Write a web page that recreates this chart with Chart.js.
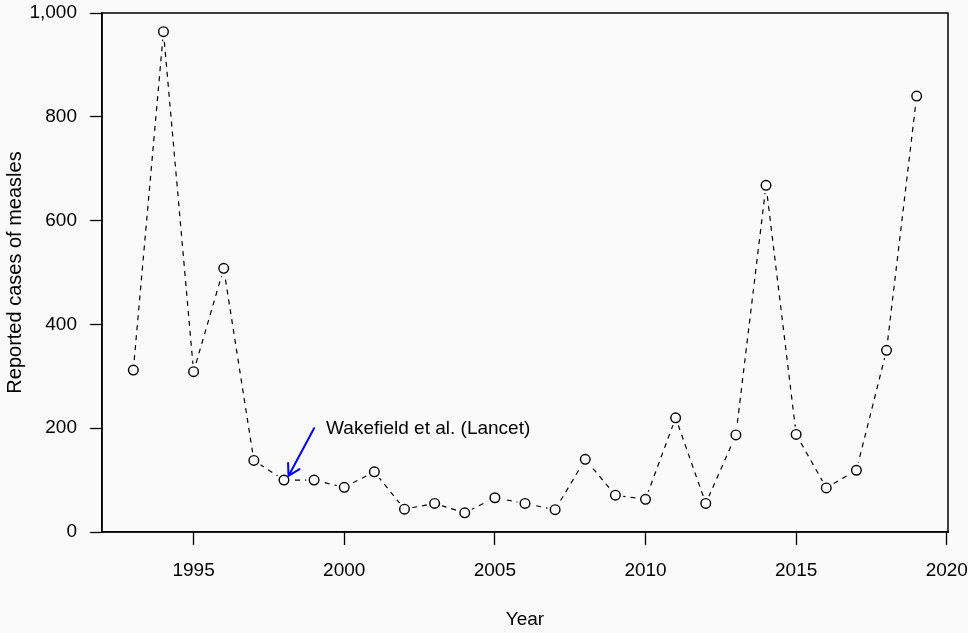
<!DOCTYPE html>
<html>
<head>
<meta charset="utf-8">
<script src="https://cdn.jsdelivr.net/npm/chart.js@4/dist/chart.umd.min.js"></script>
<style>
  html, body { margin: 0; padding: 0; background: #fafafa; }
  canvas { display: block; }
</style>
</head>
<body>
<canvas id="c" width="968" height="633"></canvas>
<script>
// ---- data ----
const YEARS = [1993,1994,1995,1996,1997,1998,1999,2000,2001,2002,2003,2004,2005,2006,2007,2008,2009,2010,2011,2012,2013,2014,2015,2016,2017,2018,2019];
const CASES = [312,964,309,508,138,100,100,86,116,44,55,37,66,55,43,140,71,63,220,55,187,668,188,85,119,350,840];
const X_TICKS = [1995,2000,2005,2010,2015,2020];
const Y_TICKS = [0,200,400,600,800,1000];
const X_TITLE = 'Year';
const Y_TITLE = 'Reported cases of measles';
const NOTE_TEXT = 'Wakefield et al. (Lancet)';
const NOTE_FROM = [1999, 200];
const NOTE_TO = [1998.15, 108];

const FONT = { family: '"Liberation Sans", Arial, Helvetica, sans-serif', size: 19 };
const YTITLE_FONT = { family: '"Liberation Sans", Arial, Helvetica, sans-serif', size: 20 };
const BG = '#fafafa';

const bgPlugin = {
  id: 'bg',
  beforeDraw(chart) {
    const ctx = chart.ctx;
    ctx.save();
    ctx.fillStyle = BG;
    ctx.fillRect(0, 0, chart.width, chart.height);
    ctx.restore();
  },
  afterDraw(chart) {
    const ctx = chart.ctx;
    const a = chart.chartArea;
    ctx.save();
    ctx.strokeStyle = '#000';
    ctx.lineWidth = 1.5;
    ctx.strokeRect(a.left, a.top, a.right - a.left, a.bottom - a.top);
    // annotation arrow
    const xs = chart.scales.x, ys = chart.scales.y;
    const x0 = xs.getPixelForValue(NOTE_FROM[0]), y0 = ys.getPixelForValue(NOTE_FROM[1]);
    const x1 = xs.getPixelForValue(NOTE_TO[0]), y1 = ys.getPixelForValue(NOTE_TO[1]);
    ctx.strokeStyle = '#0000ff';
    ctx.lineWidth = 2;
    ctx.lineCap = 'round';
    ctx.beginPath();
    ctx.moveTo(x0, y0);
    ctx.lineTo(x1, y1);
    const ang = Math.atan2(y1 - y0, x1 - x0);
    const hl = 13, ha = Math.PI / 6;
    ctx.moveTo(x1, y1);
    ctx.lineTo(x1 - hl * Math.cos(ang - ha), y1 - hl * Math.sin(ang - ha));
    ctx.moveTo(x1, y1);
    ctx.lineTo(x1 - hl * Math.cos(ang + ha), y1 - hl * Math.sin(ang + ha));
    ctx.stroke();
    ctx.fillStyle = '#000';
    ctx.font = FONT.size + 'px ' + FONT.family;
    ctx.textAlign = 'left';
    ctx.textBaseline = 'middle';
    ctx.fillText(NOTE_TEXT, x0 + 12, y0 + 1);
    ctx.restore();
  }
};

const POINTS = YEARS.map((y, i) => ({ x: y, y: CASES[i] }));

new Chart(document.getElementById('c'), {
  type: 'line',
  data: {
    datasets: [
      {
        // dashed connecting line
        data: POINTS,
        order: 3,
        borderColor: '#000',
        borderWidth: 1.2,
        borderDash: [5, 5],
        pointRadius: 0,
        tension: 0,
        fill: false
      },
      {
        // gap around each point (as in R type = "b")
        data: POINTS,
        order: 2,
        showLine: false,
        pointRadius: 8,
        pointBorderWidth: 0,
        pointBorderColor: BG,
        pointBackgroundColor: BG
      },
      {
        // open circles
        data: POINTS,
        order: 1,
        showLine: false,
        pointRadius: 4.8,
        pointBorderWidth: 1.4,
        pointBorderColor: '#000',
        pointBackgroundColor: BG
      }
    ]
  },
  options: {
    responsive: false,
    animation: false,
    devicePixelRatio: 1,
    layout: { padding: { left: 0, top: 13, right: 20, bottom: 0 } },
    plugins: { legend: { display: false }, tooltip: { enabled: false } },
    scales: {
      x: {
        type: 'linear',
        min: 1991.96,
        max: 2020.04,
        afterBuildTicks(s) { s.ticks = X_TICKS.map(v => ({ value: v })); },
        afterFit(s) { s.height = 101; s.paddingLeft = 0; s.paddingRight = 0; },
        ticks: {
          autoSkip: false, maxRotation: 0, color: '#000', font: FONT, padding: 14,
          callback: v => String(v)
        },
        grid: { drawOnChartArea: false, drawTicks: true, tickLength: 13, tickColor: '#000', tickWidth: 1.3 },
        border: { display: true, color: '#000', width: 1.5 },
        title: { display: true, text: X_TITLE, color: '#000', font: FONT, padding: { top: 0, bottom: 2 } }
      },
      y: {
        type: 'linear',
        min: 0,
        max: 1000,
        afterBuildTicks(s) { s.ticks = Y_TICKS.map(v => ({ value: v })); },
        afterFit(s) { s.width = 102; s.paddingTop = 0; s.paddingBottom = 0; },
        ticks: {
          autoSkip: false, color: '#000', font: FONT, padding: 13,
          callback: v => Number(v).toLocaleString('en-US')
        },
        grid: { drawOnChartArea: false, drawTicks: true, tickLength: 12, tickColor: '#000', tickWidth: 1.3 },
        border: { display: true, color: '#000', width: 1.5 },
        title: { display: true, text: Y_TITLE, color: '#000', font: YTITLE_FONT, padding: { top: 3, bottom: 0 } }
      }
    }
  },
  plugins: [bgPlugin]
});
</script>
</body>
</html>
